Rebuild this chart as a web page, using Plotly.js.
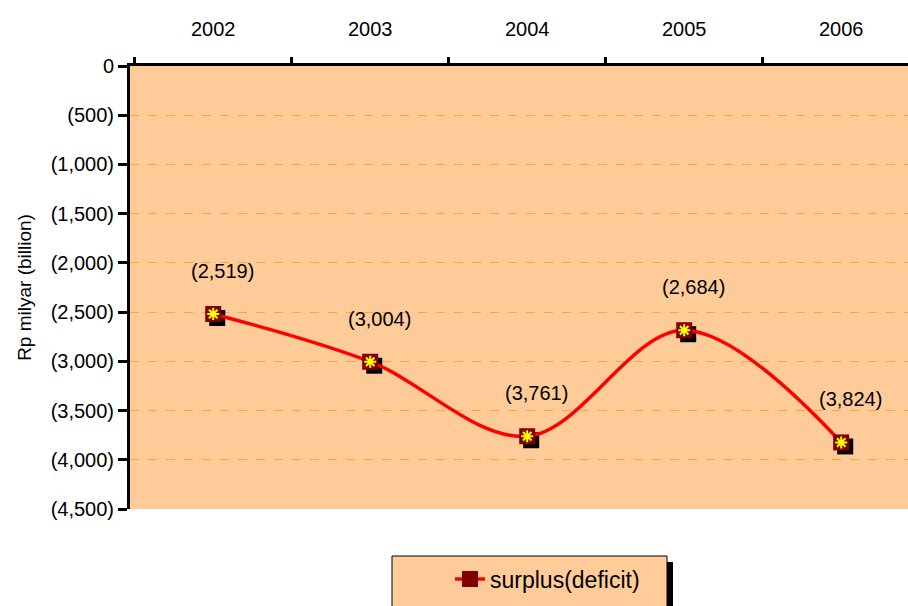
<!DOCTYPE html>
<html>
<head>
<meta charset="utf-8">
<script src="https://cdn.plot.ly/plotly-3.0.1.min.js"></script>
<style>html,body{margin:0;padding:0;background:#fff;}#chart{width:908px;height:606px;}</style>
</head>
<body>
<div id="chart"></div>
<script>
// ---- data ----
const years = ["2002", "2003", "2004", "2005", "2006"];
const surplus = [-2519, -3004, -3761, -2684, -3824];
const yTickVals = [0, -500, -1000, -1500, -2000, -2500, -3000, -3500, -4000, -4500];
const seriesName = "surplus(deficit)";
const yTitle = "Rp milyar (billion)";

// ---- helpers ----
const fmt = v => v === 0 ? "0" : "(" + Math.abs(v).toLocaleString("en-US") + ")";
const yTickText = yTickVals.map(fmt);
const idx = years.map((_, i) => i);
const FONT = "Arial, 'Liberation Sans', sans-serif";

const W = 908, H = 606, ML = 130, MR = 0, MT = 66, MB = 97;
const plotW = W - ML - MR, plotH = H - MT - MB;
const px2x = px => (px - ML) / plotW;
const px2y = py => (H - MB - py) / plotH;

const catW = 157; // pixels per category
const xMin = -0.53;
const xMax = xMin + plotW / catW;
const shadowDx = 4 / catW;
const shadowDy = 4 / plotH * 4500;

const traces = [
  { // marker shadows
    x: idx.map(i => i + shadowDx), y: surplus.map(v => v - shadowDy),
    xaxis: "x2", yaxis: "y", mode: "markers", type: "scatter",
    marker: { symbol: "square", size: 16, color: "#000000" },
    showlegend: false, hoverinfo: "skip"
  },
  {
    x: idx, y: surplus, xaxis: "x2", yaxis: "y", name: seriesName,
    mode: "lines+markers", type: "scatter",
    line: { color: "#FF0000", width: 3.5, shape: "spline", smoothing: 1 },
    marker: { symbol: "square", size: 16, color: "#800000", line: { color: "#800000", width: 0 } },
    showlegend: true
  },
  {
    x: idx, y: surplus, xaxis: "x2", yaxis: "y", mode: "markers", type: "scatter",
    marker: { symbol: "asterisk-open", size: 10, color: "#FFFF00", line: { color: "#FFFF00", width: 2 } },
    showlegend: false, hoverinfo: "skip"
  },
  { // category axis carrier
    x: years, y: surplus, xaxis: "x", yaxis: "y", mode: "none", type: "scatter",
    showlegend: false, hoverinfo: "skip"
  }
];

const annotations = surplus.map((v, i) => ({
  x: i, y: v, xref: "x2", yref: "y", text: fmt(v), showarrow: false,
  xshift: 9, yshift: 43, font: { family: FONT, size: 20, color: "#000" }
}));

const layout = {
  width: W, height: H,
  margin: { l: ML, r: MR, t: MT, b: MB, pad: 0 },
  paper_bgcolor: "#FFFFFF",
  plot_bgcolor: "#FFCC99",
  font: { family: FONT, color: "#000" },
  showlegend: true,
  xaxis: {
    type: "category", side: "top", range: [xMin, xMax],
    tickson: "boundaries", ticks: "outside", ticklen: 6, tickwidth: 3, tickcolor: "#000",
    showline: true, linecolor: "#000", linewidth: 3, showgrid: false, zeroline: false,
    tickfont: { family: FONT, size: 20, color: "#000" }, ticklabelstandoff: 19,
    fixedrange: true
  },
  xaxis2: {
    overlaying: "x", range: [xMin, xMax], visible: false, fixedrange: true
  },
  yaxis: {
    range: [-4500, 0], tickvals: yTickVals, ticktext: yTickText,
    ticks: "outside", ticklen: 9, tickwidth: 3, tickcolor: "#000",
    showline: true, linecolor: "#000", linewidth: 3, mirror: false,
    showgrid: true, gridcolor: "#FFA62B", griddash: "dash", gridwidth: 1,
    zeroline: false, tickfont: { family: FONT, size: 20, color: "#000" },
    ticklabelstandoff: 0,
    title: { text: yTitle, font: { family: FONT, size: 19, color: "#000" }, standoff: 14 },
    fixedrange: true
  },
  legend: {
    x: px2x(450), xanchor: "left", y: px2y(579), yanchor: "middle",
    bgcolor: "rgba(0,0,0,0)", borderwidth: 0,
    font: { family: FONT, size: 23, color: "#000" }
  },
  shapes: [
    { type: "rect", xref: "paper", yref: "paper",
      x0: px2x(667), x1: px2x(673), y0: px2y(562), y1: px2y(615),
      fillcolor: "#000000", line: { width: 0 } },
    { type: "rect", xref: "paper", yref: "paper",
      x0: px2x(392), x1: px2x(667), y0: px2y(556), y1: px2y(615),
      fillcolor: "#FFCC99", line: { color: "#000000", width: 1 } }
  ],
  annotations: annotations
};

Plotly.newPlot("chart", traces, layout, { displayModeBar: false, staticPlot: true });
</script>
</body>
</html>
